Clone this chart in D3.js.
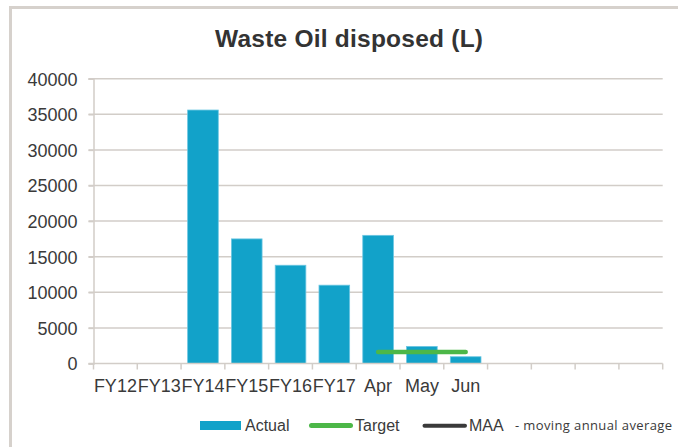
<!DOCTYPE html>
<html><head><meta charset="utf-8">
<script src="https://cdn.jsdelivr.net/npm/d3@7/dist/d3.min.js"></script>
<style>
html,body{margin:0;padding:0;background:#fff;}
svg{display:block;}
</style></head>
<body>
<svg id="c" width="678" height="447"></svg>
<script>
const categories = ["FY12","FY13","FY14","FY15","FY16","FY17","Apr","May","Jun","","","",""];
const actual = [null,null,35600,17500,13800,11000,18000,2400,950,null,null,null,null];
const target = [null,null,null,null,null,null,1600,1600,1600,null,null,null,null];
const yTicks = [0,5000,10000,15000,20000,25000,30000,35000,40000];
const legendLabels = ["Actual","Target","MAA"];
const legendNote = "- moving annual average";
const title = "Waste Oil disposed (L)";

(function(){
const svg = d3.select("#c");
const textColor = "#3a3a3a";
const gridColor = "#d2cdc8";
const font = "'Liberation Sans', Arial, sans-serif";

// frame
svg.append("rect").attr("x",10.5).attr("y",7.5).attr("width",700).attr("height",500)
  .attr("fill","none").attr("stroke","#d6d1cc").attr("stroke-width",3);

const pL = 93.5, pR = 662.7, pT = 78.7, pB = 363.5;
const x = d3.scaleBand().domain(d3.range(categories.length)).range([pL,pR]).paddingInner(0.3).paddingOuter(0.15);
const xb = d3.scaleBand().domain(d3.range(categories.length)).range([pL,pR]);
const y = d3.scaleLinear().domain([0,40000]).range([pB,pT]);

// title
svg.append("text").attr("x",215).attr("y",46.7)
  .attr("font-family",font).attr("font-weight","bold").attr("font-size",24.5).attr("fill","#333")
  .attr("textLength",268).attr("lengthAdjust","spacing").text(title);

// gridlines
svg.append("g").selectAll("line").data(yTicks.filter(d=>d>0)).join("line")
  .attr("x1",pL-5).attr("x2",pR).attr("y1",d=>y(d)).attr("y2",d=>y(d))
  .attr("stroke",gridColor).attr("stroke-width",1.5);

// y axis
const yAxis = d3.axisLeft(y).tickValues(yTicks).tickSize(5).tickPadding(11).tickFormat(d3.format("d"));
const gy = svg.append("g").attr("transform",`translate(${pL},0)`).call(yAxis);
gy.select(".domain").attr("stroke",gridColor).attr("stroke-width",1.5);
gy.selectAll(".tick line").attr("stroke",gridColor).attr("stroke-width",1.5);
gy.selectAll("text").attr("font-family",font).attr("font-size",18).attr("fill",textColor).attr("dy","0.36em");

// bars
svg.append("g").selectAll("rect").data(actual.map((v,i)=>({v,i})).filter(d=>d.v!=null)).join("rect")
  .attr("x",d=>x(d.i)).attr("width",x.bandwidth())
  .attr("y",d=>y(d.v)).attr("height",d=>y(0)-y(d.v))
  .attr("fill","#12a2c9").attr("stroke","#6cc6e2").attr("stroke-width",0.8);

// x axis
const xAxis = d3.axisBottom(xb).tickSize(0).tickPadding(0).tickFormat(i=>categories[i]);
const gx = svg.append("g").attr("transform",`translate(0,${pB})`).call(xAxis);
gx.select(".domain").remove();
gx.selectAll("text").attr("font-family",font).attr("font-size",18).attr("fill",textColor).attr("dy",0).attr("y",28);
svg.append("line").attr("x1",pL-5).attr("x2",pR).attr("y1",pB).attr("y2",pB)
  .attr("stroke",gridColor).attr("stroke-width",1.5);
const edges = d3.range(categories.length+1).map(i=> i<categories.length ? xb(i) : pR);
svg.append("g").selectAll("line").data(edges).join("line")
  .attr("x1",d=>d).attr("x2",d=>d).attr("y1",pB).attr("y2",pB+6)
  .attr("stroke",gridColor).attr("stroke-width",1.5);

// target line
const tdata = target.map((v,i)=>({v,i})).filter(d=>d.v!=null);
svg.append("path").datum(tdata)
  .attr("d",d3.line().x(d=>xb(d.i)+xb.bandwidth()/2).y(d=>y(d.v)))
  .attr("fill","none").attr("stroke","#4cb748").attr("stroke-width",4.5).attr("stroke-linecap","round");

// legend
const lg = svg.append("g").attr("font-family",font).attr("font-size",16).attr("fill",textColor);
lg.append("rect").attr("x",200).attr("y",421).attr("width",41).attr("height",9).attr("fill","#12a2c9");
lg.append("text").attr("x",245).attr("y",431).text(legendLabels[0]);
lg.append("line").attr("x1",311.5).attr("x2",350.5).attr("y1",425.5).attr("y2",425.5)
  .attr("stroke","#4cb748").attr("stroke-width",5).attr("stroke-linecap","round");
lg.append("text").attr("x",355).attr("y",431).text(legendLabels[1]);
lg.append("line").attr("x1",424.5).attr("x2",465).attr("y1",425.7).attr("y2",425.7)
  .attr("stroke","#3a3a3a").attr("stroke-width",4).attr("stroke-linecap","round");
lg.append("text").attr("x",469).attr("y",431).text(legendLabels[2]);
svg.append("text").attr("x",515).attr("y",430).attr("font-family","'Open Sans', 'Noto Sans', sans-serif")
  .attr("font-size",13).attr("fill",textColor).attr("textLength",157).text(legendNote);
})();
</script>
</body></html>
